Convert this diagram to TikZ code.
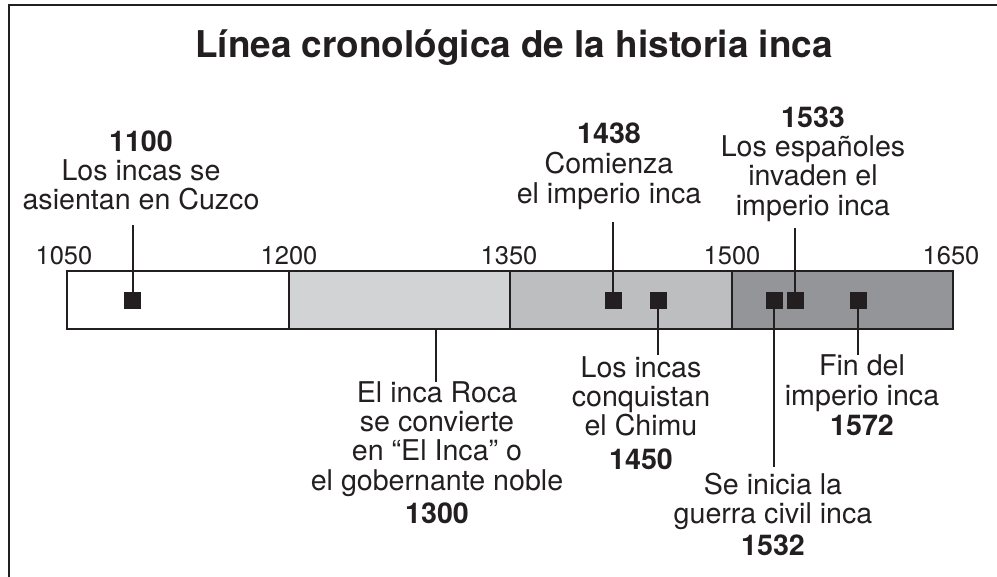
\documentclass[tikz,border=0pt]{standalone}
\usepackage{fontspec}
\setmainfont{TeX Gyre Heros}
\definecolor{ink}{HTML}{231F20}
\definecolor{gA}{HTML}{D1D3D4}
\definecolor{gB}{HTML}{BCBEC0}
\definecolor{gC}{HTML}{939598}
\newcommand{\bodyfnt}{\fontsize{28.6}{29.2}\selectfont}
\tikzset{
  seg/.style={draw=ink, line width=2pt, minimum width=221.5pt, minimum height=58pt, inner sep=0pt},
  mk/.style={fill=ink, minimum size=17pt, inner sep=0pt},
  conn/.style={draw=ink, line width=2pt},
  tick/.style={anchor=base, text=ink, font=\fontsize{25.5}{27}\selectfont, inner sep=0pt},
  evt/.style={anchor=north, align=center, text=ink, font=\bodyfnt, inner sep=0pt},
  frame/.style={draw=ink, line width=2pt}
}
\begin{document}
\begin{tikzpicture}[x=1pt,y=-1pt]
\useasboundingbox (0,0) rectangle (997,577);
\draw[frame] (9,577) -- (9,5) -- (997,5);
\node[anchor=base, text=ink, font=\fontsize{36.9}{40}\selectfont\bfseries, inner sep=0pt] (title) at (514,58) {Línea cronológica de la historia inca};
% bar
\node[seg, fill=white] (s1) at (177.75,300) {};
\node[seg, fill=gA] (s2) at (399.25,300) {};
\node[seg, fill=gB] (s3) at (620.75,300) {};
\node[seg, fill=gC] (s4) at (842.25,300) {};
% ticks
\node[tick] (y1050) at (64,265) {1050};
\node[tick] (y1200) at (289,265) {1200};
\node[tick] (y1350) at (509,265) {1350};
\node[tick] (y1500) at (732,265) {1500};
\node[tick] (y1650) at (951,265) {1650};
% markers
\node[mk] (m1100) at (132.5,300.5) {};
\node[mk] (m1438) at (613,300.5) {};
\node[mk] (m1450) at (658,300.5) {};
\node[mk] (m1532) at (774,300.5) {};
\node[mk] (m1533) at (795,300.5) {};
\node[mk] (m1572) at (858,300.5) {};
% event texts
\node[evt] (t1100) at (141,130.2) {\textbf{1100}\\Los incas se\\asientan en Cuzco};
\node[evt] (t1438) at (609,122.8) {\textbf{1438}\\[1pt]Comienza\\el imperio inca};
\node[evt] (t1533) at (813,106.5) {\textbf{1533}\\Los españoles\\invaden el\\imperio inca};
\node[evt] (t1300) at (437,381.5) {El inca Roca\\se convierte\\en “El Inca” o\\el gobernante noble\\[4pt]\textbf{1300}};
\node[evt] (t1450) at (641,356.5) {Los incas\\conquistan\\el Chimu\\[4pt]\textbf{1450}};
\node[evt] (t1532) at (773,472.5) {Se inicia la\\guerra civil inca\\[3pt]\textbf{1532}};
\node[evt] (t1572) at (862,354.5) {Fin del\\[1pt]imperio inca\\[1pt]\textbf{1572}};
% connector ends
\coordinate (e1100) at (132.5,225);
\coordinate (e1438) at (613,222);
\coordinate (e1533) at (795,228);
\coordinate (b1300) at (436,329);
\coordinate (e1300) at (436,382);
\coordinate (e1450) at (658,355);
\coordinate (e1532) at (774,467);
\coordinate (e1572) at (858,355);
% connectors
\draw[conn] (m1100.center) -- (e1100);
\draw[conn] (m1438.center) -- (e1438);
\draw[conn] (m1533.center) -- (e1533);
\draw[conn] (b1300) -- (e1300);
\draw[conn] (m1450.center) -- (e1450);
\draw[conn] (m1532.center) -- (e1532);
\draw[conn] (m1572.center) -- (e1572);
\end{tikzpicture}
\end{document}
